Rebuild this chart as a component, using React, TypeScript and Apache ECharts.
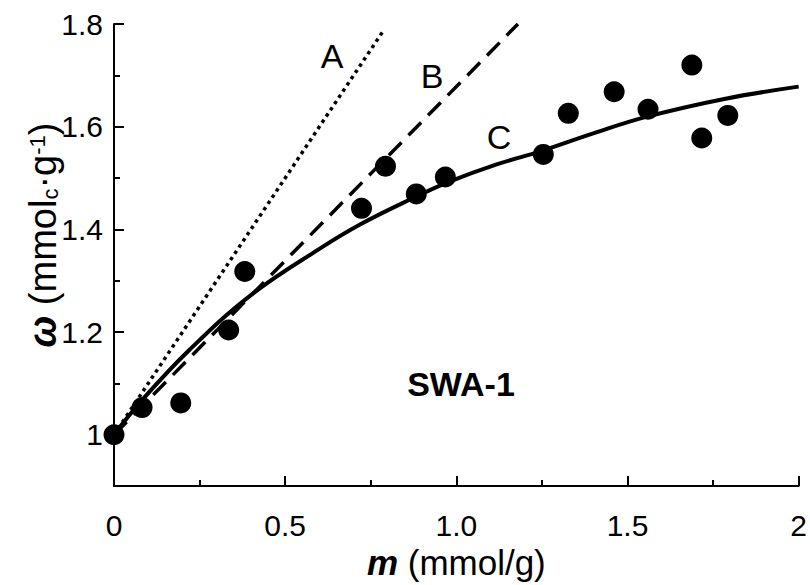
import React, { useEffect, useRef } from "react";
import * as echarts from "echarts";

// measured data (m, omega)
const pointsM = [0, 0.082, 0.195, 0.335, 0.382, 0.723, 0.793, 0.883, 0.968, 1.254, 1.327, 1.461, 1.56, 1.688, 1.717, 1.793];
const pointsW = [1.0, 1.053, 1.062, 1.204, 1.318, 1.441, 1.523, 1.469, 1.502, 1.546, 1.626, 1.668, 1.634, 1.72, 1.578, 1.622];

// line A (dotted) and line B (dashed) endpoints
const lineAM = [0, 0.79];
const lineAW = [1.0, 1.79];
const lineBM = [0, 1.18];
const lineBW = [1.0, 1.8];

// curve C (solid)
const curveCM = [0, 0.08, 0.22, 0.4, 0.6, 0.72, 0.88, 0.98, 1.12, 1.25, 1.4, 1.56, 1.79, 2.0];
const curveCW = [1.0, 1.066, 1.165, 1.272, 1.362, 1.41, 1.463, 1.493, 1.527, 1.553, 1.587, 1.62, 1.655, 1.678];

const yMajorTicks = [1.0, 1.2, 1.4, 1.6, 1.8];
const yMinorTicks = [1.1, 1.3, 1.5, 1.7];

const FONT = "'Liberation Sans', Arial, sans-serif";

const zip = (a: number[], b: number[]) => a.map((v, i) => [v, b[i]]);

export default function App() {
  const ref = useRef<HTMLDivElement>(null);
  useEffect(() => {
    document.body.style.margin = "0";
    if (!ref.current) return;
    const chart = echarts.init(ref.current, undefined, { renderer: "svg" });
    const axisLine = { show: true, lineStyle: { color: "#000", width: 2 } };
    chart.setOption({
      animation: false,
      backgroundColor: "#fff",
      grid: { left: 114, right: 10, top: 24, bottom: 90, containLabel: false },
      xAxis: {
        type: "value",
        min: 0,
        max: 2,
        interval: 0.5,
        axisLine,
        axisTick: { show: true, inside: true, length: 10, lineStyle: { color: "#000", width: 2 } },
        minorTick: { show: true, splitNumber: 2, length: 6, lineStyle: { color: "#000", width: 2 } },
        splitLine: { show: false },
        axisLabel: {
          margin: 24,
          fontSize: 30,
          fontFamily: FONT,
          color: "#000",
          formatter: (v: number) => (v === 0 || v === 2 ? String(v) : v.toFixed(1)),
        },
        name: "{b|m} (mmol/g)",
        nameLocation: "middle",
        nameGap: 54,
        nameTextStyle: {
          fontSize: 35,
          fontFamily: FONT,
          color: "#000",
          rich: { b: { fontSize: 35, fontFamily: FONT, fontWeight: "bold", fontStyle: "italic", color: "#000" } },
        },
      },
      yAxis: [
        {
          type: "value",
          min: 0.9,
          max: 1.8,
          axisLine,
          axisTick: {
            show: true,
            inside: true,
            length: 10,
            customValues: yMajorTicks,
            lineStyle: { color: "#000", width: 2 },
          },
          splitLine: { show: false },
          axisLabel: {
            customValues: yMajorTicks,
            margin: 11,
            fontSize: 30,
            fontFamily: FONT,
            color: "#000",
            formatter: (v: number) => (Math.abs(v - 1) < 1e-9 ? "1" : v.toFixed(1)),
          },
        },
        {
          type: "value",
          min: 0.9,
          max: 1.8,
          position: "left",
          axisLine: { show: false },
          axisTick: {
            show: true,
            inside: true,
            length: 6,
            customValues: yMinorTicks,
            lineStyle: { color: "#000", width: 2 },
          },
          axisLabel: { show: false, customValues: yMinorTicks },
          splitLine: { show: false },
        },
      ],
      graphic: [
        {
          type: "text",
          x: 43,
          y: 235,
          rotation: Math.PI / 2,
          style: {
            text: "{w|ω} (mmol{sub|c}·g{sup|-1})",
            font: `38px ${FONT}`,
            fill: "#000",
            align: "center",
            verticalAlign: "middle",
            rich: {
              w: { fontSize: 38, fontWeight: "bold", fontStyle: "italic", fontFamily: FONT, fill: "#000", lineHeight: 48, verticalAlign: "middle" },
              sub: { fontSize: 22, fontFamily: FONT, fill: "#000", lineHeight: 48, verticalAlign: "bottom", padding: [0, 0, 6, 0] },
              sup: { fontSize: 22, fontFamily: FONT, fill: "#000", lineHeight: 48, verticalAlign: "top", padding: [7, 0, 0, 0] },
            },
          },
        },
        { type: "text", x: 332, y: 56, style: { text: "A", font: `34px ${FONT}`, fill: "#000", align: "center", verticalAlign: "middle" } },
        { type: "text", x: 432, y: 76, style: { text: "B", font: `34px ${FONT}`, fill: "#000", align: "center", verticalAlign: "middle" } },
        { type: "text", x: 499, y: 137, style: { text: "C", font: `34px ${FONT}`, fill: "#000", align: "center", verticalAlign: "middle" } },
        { type: "text", x: 461, y: 384, style: { text: "SWA-1", font: `bold 34px ${FONT}`, fill: "#000", align: "center", verticalAlign: "middle" } },
      ],
      series: [
        {
          type: "line",
          data: zip(lineAM, lineAW),
          symbol: "none",
          lineStyle: { color: "#000", width: 3.5, type: [3.5, 4], cap: "butt" },
          z: 2,
        },
        {
          type: "line",
          data: zip(lineBM, lineBW),
          symbol: "none",
          lineStyle: { color: "#000", width: 3.5, type: [18, 10], cap: "butt" },
          z: 2,
        },
        {
          type: "line",
          data: zip(curveCM, curveCW),
          symbol: "none",
          smooth: 0.4,
          lineStyle: { color: "#000", width: 4 },
          z: 3,
        },
        {
          type: "scatter",
          data: zip(pointsM, pointsW),
          symbol: "circle",
          symbolSize: 21,
          itemStyle: { color: "#000", opacity: 1 },
          z: 4,
        },
      ],
    });
    return () => chart.dispose();
  }, []);
  return <div ref={ref} style={{ width: 810, height: 585 }} />;
}
